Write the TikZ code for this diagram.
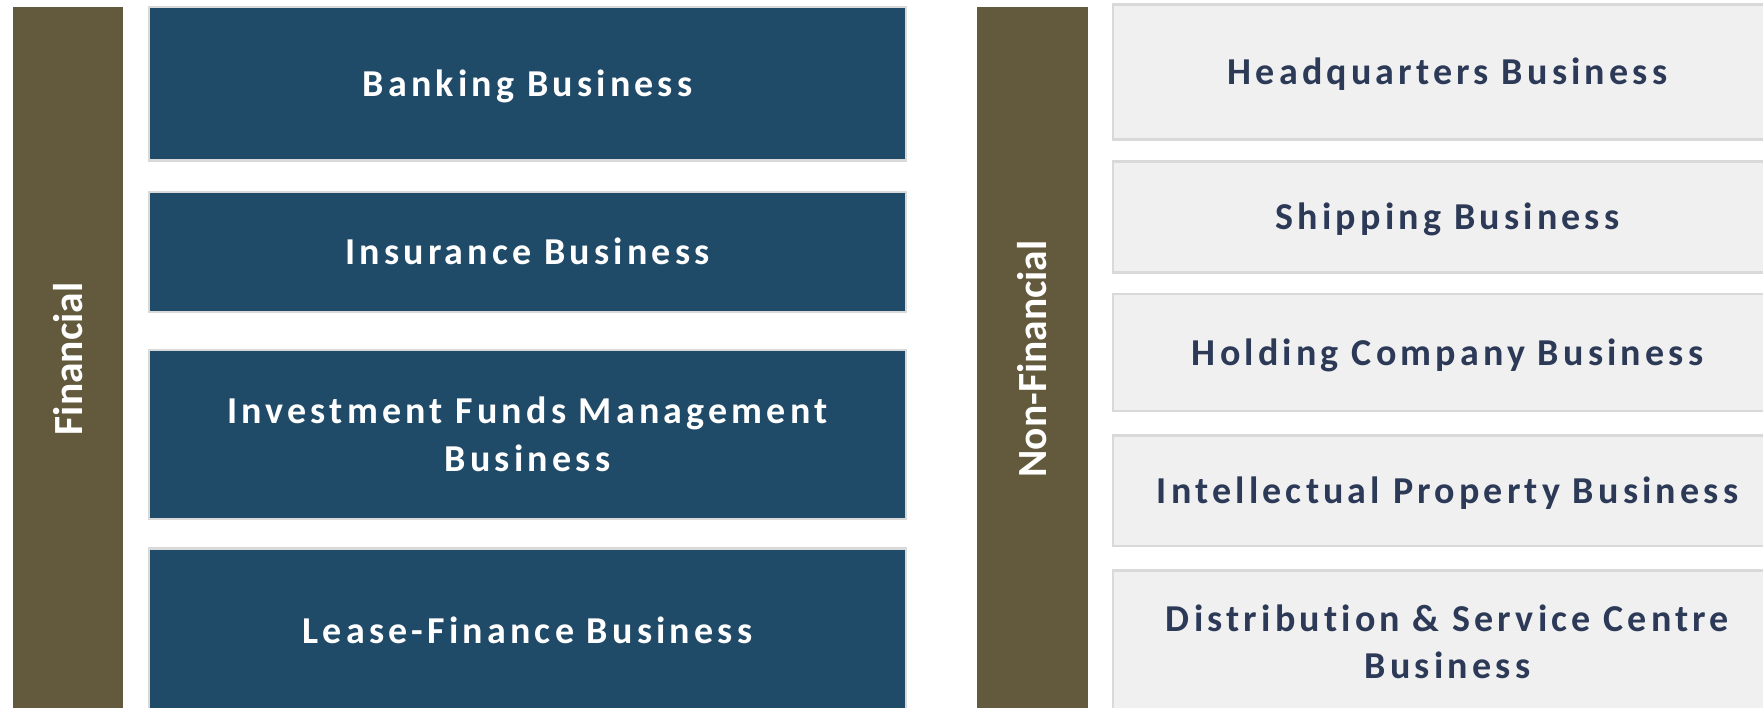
\documentclass[tikz,border=0pt]{standalone}
\usepackage{fontspec}
\setmainfont{Carlito}[Ligatures=NoCommon]
\newfontfamily\boxfont{Carlito}[LetterSpace=11, Ligatures=NoCommon]

\definecolor{barolive}{RGB}{99,89,60}
\definecolor{finblue}{RGB}{31,74,104}
\definecolor{panelgrey}{RGB}{240,240,240}
\definecolor{edgegrey}{RGB}{217,217,217}
\definecolor{inkblue}{RGB}{44,58,87}

\begin{document}
\begin{tikzpicture}[x=1pt,y=-1pt,
  every node/.style={inner sep=0pt, outer sep=0pt},
  sidebar/.style={fill=barolive, text=white, rotate=90,
    font=\bfseries\fontsize{41.5}{50}\selectfont,
    minimum width=703, minimum height=110},
  boxtext/.style={align=center, line width=2.5pt, draw=edgegrey,
    font=\boxfont\bfseries\fontsize{38}{47.5}\selectfont},
  oneline/.style={text height=26pt, text depth=0pt},
  finbox/.style={boxtext, fill=finblue, text=white, minimum width=757},
  nonfinbox/.style={boxtext, fill=panelgrey, text=inkblue, minimum width=669}]

\useasboundingbox (0,0) rectangle (1763,708);
\clip (0,0) rectangle (1763,708);
\fill[white] (0,0) rectangle (1763,708);

% Financial column
\node[sidebar] (fin) at (68,359) {Financial};
\node[finbox, oneline, minimum height=153.5] (bank) at (527.5,83.75) {Banking Business};
\node[finbox, oneline, minimum height=120]   (ins)  at (527.5,252)   {Insurance Business};
\node[finbox, minimum height=169]            (ifm)  at (527.5,434.5) {Investment Funds Management\\Business};
\node[finbox, oneline, minimum height=163.5] (lease) at (527.5,630)  {Lease-Finance Business};

% Non-financial column
\node[sidebar, minimum height=111] (nonfin) at (1032.5,359) {Non-Financial};
\node[nonfinbox, oneline, minimum height=135]   (hq)   at (1447.5,72)    {Headquarters Business};
\node[nonfinbox, oneline, minimum height=111]   (ship) at (1447.5,216.8) {Shipping Business};
\node[nonfinbox, oneline, minimum height=116.5] (hold) at (1447.5,352.5) {Holding Company Business};
\node[nonfinbox, oneline, minimum height=110.5] (ip)   at (1447.5,490.5) {Intellectual Property Business};
\node[nonfinbox, minimum height=142.6]          (dist) at (1447.5,641.6) {Distribution \& Service Centre\\Business};

\end{tikzpicture}
\end{document}
